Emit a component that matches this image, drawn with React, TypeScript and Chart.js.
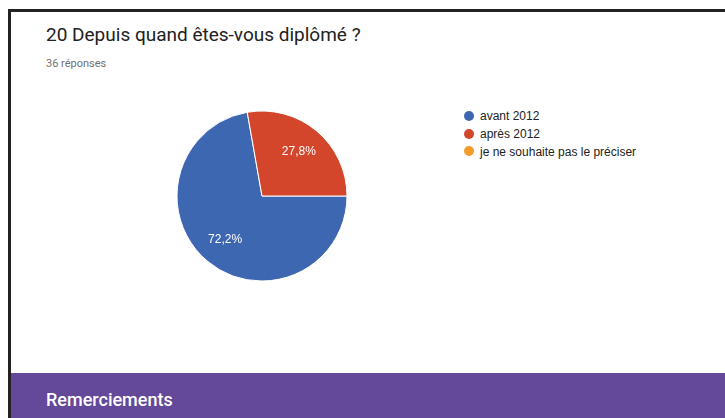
import React, { useEffect, useRef } from "react";
import { Chart, registerables } from "chart.js";

Chart.register(...registerables);

const categories = ["avant 2012", "après 2012", "je ne souhaite pas le préciser"];
const responses = [26, 10, 0];
const sliceColors = ["#3e67b1", "#d3462c", "#f49b2b"];
const titleText = "20 Depuis quand êtes-vous diplômé ?";
const subtitleText = "36 réponses";
const bannerText = "Remerciements";

const pieLabels = {
  id: "pieLabels",
  afterDatasetsDraw(chart: any) {
    const ctx = chart.ctx;
    const meta = chart.getDatasetMeta(0);
    const data = chart.data.datasets[0].data as number[];
    const total = data.reduce((a, b) => a + b, 0);
    ctx.save();
    ctx.fillStyle = "#ffffff";
    ctx.font = "12px Arial, 'Liberation Sans', sans-serif";
    ctx.textAlign = "center";
    ctx.textBaseline = "middle";
    meta.data.forEach((arc: any, i: number) => {
      const v = data[i];
      if (!v) return;
      const { x, y, startAngle, endAngle, outerRadius } = arc.getProps(
        ["x", "y", "startAngle", "endAngle", "outerRadius"],
        true
      );
      const mid = (startAngle + endAngle) / 2;
      const d = outerRadius * 0.675;
      const label = ((v / total) * 100).toFixed(1).replace(".", ",") + "%";
      ctx.fillText(label, x + Math.cos(mid) * d, y + Math.sin(mid) * d);
    });
    ctx.restore();
  },
};

export default function App() {
  const canvasRef = useRef<HTMLCanvasElement>(null);

  useEffect(() => {
    if (!canvasRef.current) return;
    const chart = new Chart(canvasRef.current, {
      type: "pie",
      data: {
        labels: categories,
        datasets: [
          {
            data: responses,
            backgroundColor: sliceColors,
            borderColor: "#ffffff",
            borderWidth: 1,
            radius: 85,
          },
        ],
      },
      options: {
        responsive: false,
        animation: false,
        rotation: 90,
        layout: { padding: 0 },
        plugins: {
          legend: { display: false },
          tooltip: { enabled: false },
        },
      },
      plugins: [pieLabels],
    });
    return () => chart.destroy();
  }, []);

  return (
    <div
      style={{
        position: "fixed",
        left: 0,
        top: 0,
        width: 725,
        height: 418,
        background: "#ffffff",
        overflow: "hidden",
      }}
    >
      {/* frame */}
      <div style={{ position: "absolute", left: 8, top: 9, width: 717, height: 3, background: "#222222" }} />
      <div style={{ position: "absolute", left: 8, top: 9, width: 3, height: 409, background: "#222222" }} />

      <div
        style={{
          position: "absolute",
          left: 46,
          top: 25,
          fontFamily: "Roboto, sans-serif",
          fontSize: 19,
          lineHeight: "19px",
          color: "#212121",
          whiteSpace: "nowrap",
        }}
      >
        {titleText}
      </div>
      <div
        style={{
          position: "absolute",
          left: 46,
          top: 58,
          fontFamily: "Roboto, sans-serif",
          fontSize: 11,
          lineHeight: "11px",
          color: "#707070",
          whiteSpace: "nowrap",
        }}
      >
        {subtitleText}
      </div>

      <canvas
        ref={canvasRef}
        width={200}
        height={200}
        style={{ position: "absolute", left: 162, top: 96, width: 200, height: 200 }}
      />

      {/* legend */}
      <div style={{ position: "absolute", left: 464, top: 107 }}>
        {categories.map((c, i) => (
          <div
            key={c}
            style={{ display: "flex", alignItems: "center", height: 17.8, whiteSpace: "nowrap" }}
          >
            <span
              style={{
                display: "inline-block",
                width: 10,
                height: 10,
                borderRadius: "50%",
                background: sliceColors[i],
                marginRight: 6,
              }}
            />
            <span
              style={{
                fontFamily: "Arial, 'Liberation Sans', sans-serif",
                fontSize: 12,
                lineHeight: "18px",
                color: "#222222",
              }}
            >
              {c}
            </span>
          </div>
        ))}
      </div>

      {/* banner */}
      <div
        style={{
          position: "absolute",
          left: 11,
          top: 373,
          width: 714,
          height: 45,
          background: "#644899",
        }}
      >
        <div
          style={{
            position: "absolute",
            left: 35,
            top: 18,
            fontFamily: "Roboto, sans-serif",
            fontSize: 18,
            fontWeight: 500,
            lineHeight: "18px",
            color: "#ffffff",
            whiteSpace: "nowrap",
          }}
        >
          {bannerText}
        </div>
      </div>
    </div>
  );
}
